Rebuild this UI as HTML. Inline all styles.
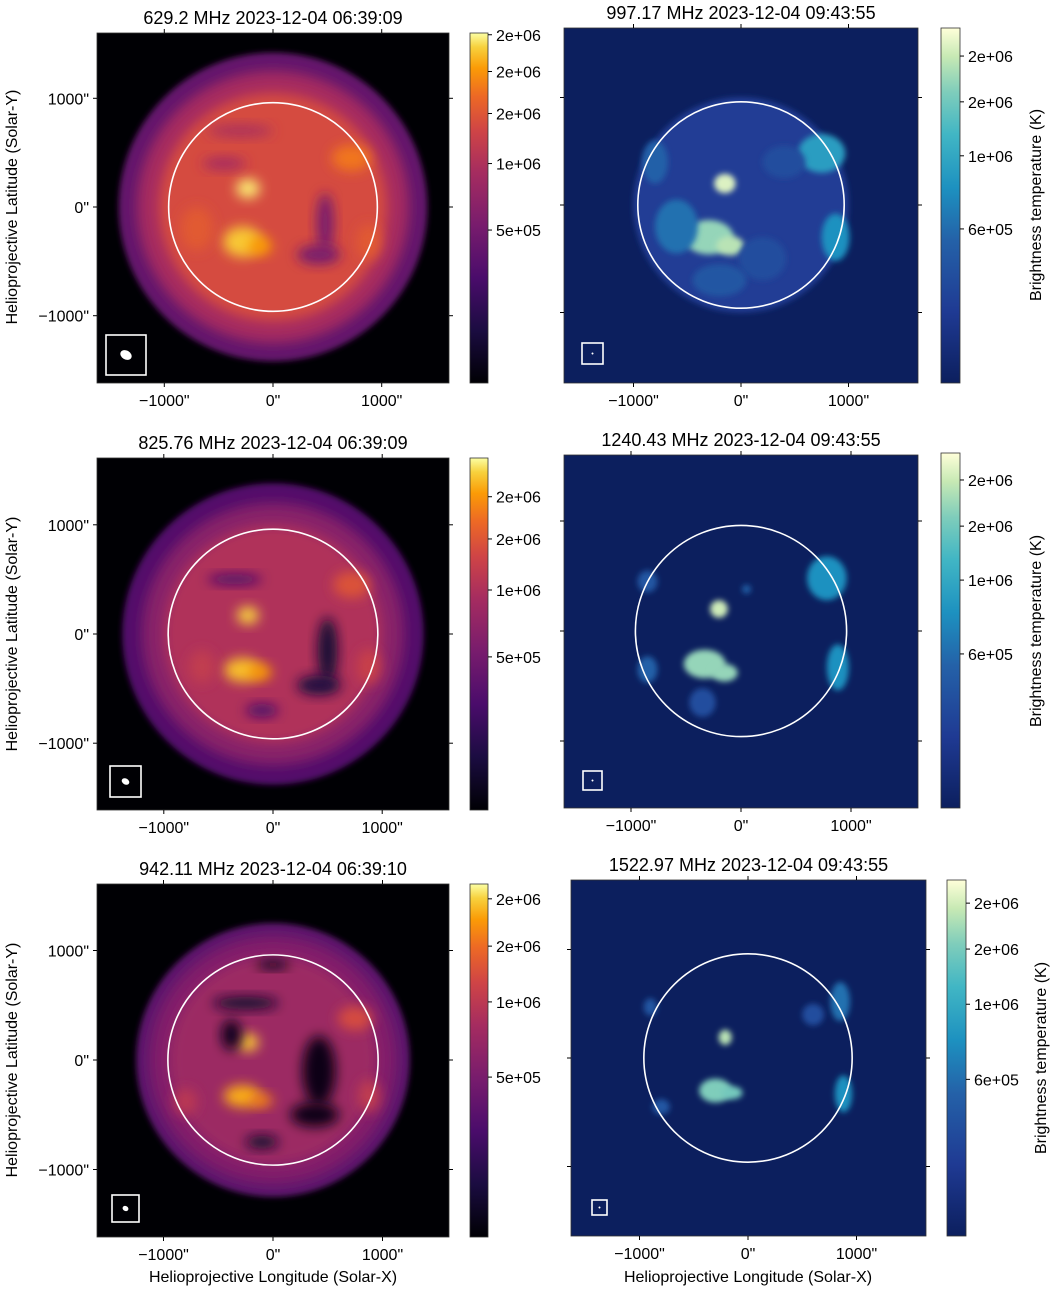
<!DOCTYPE html>
<html><head><meta charset="utf-8"><style>
html,body{margin:0;padding:0;background:#fff;}
svg{display:block;font-family:"Liberation Sans","DejaVu Sans",sans-serif;}
</style></head><body>
<svg id="fig" width="1052" height="1291" viewBox="0 0 1052 1291" xmlns="http://www.w3.org/2000/svg">
<defs>
<linearGradient id="inferno" x1="0" y1="1" x2="0" y2="0">
<stop offset="0" stop-color="#000004"/><stop offset="0.15" stop-color="#1b0c41"/><stop offset="0.3" stop-color="#4a0c6b"/><stop offset="0.45" stop-color="#781c6d"/><stop offset="0.6" stop-color="#a52c60"/><stop offset="0.72" stop-color="#cf4446"/><stop offset="0.82" stop-color="#ed6925"/><stop offset="0.9" stop-color="#fb9b06"/><stop offset="0.96" stop-color="#f7d13d"/><stop offset="1" stop-color="#fcffa4"/>
</linearGradient>
<linearGradient id="ylgnbu" x1="0" y1="1" x2="0" y2="0">
<stop offset="0" stop-color="#0c1f5e"/><stop offset="0.2" stop-color="#1f3a93"/><stop offset="0.4" stop-color="#2461a8"/><stop offset="0.55" stop-color="#1d91c0"/><stop offset="0.7" stop-color="#41b6c4"/><stop offset="0.82" stop-color="#7fcdbb"/><stop offset="0.92" stop-color="#c7e9b4"/><stop offset="1" stop-color="#ffffd9"/>
</linearGradient>
<filter id="b6" x="-50%" y="-50%" width="200%" height="200%"><feGaussianBlur stdDeviation="6"/></filter>
<filter id="b3" x="-50%" y="-50%" width="200%" height="200%"><feGaussianBlur stdDeviation="3"/></filter>
<filter id="b10" x="-50%" y="-50%" width="200%" height="200%"><feGaussianBlur stdDeviation="10"/></filter>
</defs>
</svg>
<script>
// ---- data ----
const tickArcsec = [-1000, 0, 1000];
const tickLabels = ['\u22121000"', '0"', '1000"'];
const titles = ["629.2 MHz 2023-12-04 06:39:09","997.17 MHz 2023-12-04 09:43:55","825.76 MHz 2023-12-04 06:39:09","1240.43 MHz 2023-12-04 09:43:55","942.11 MHz 2023-12-04 06:39:10","1522.97 MHz 2023-12-04 09:43:55"];
const cbLeftLabels1 = ["2e+06","2e+06","2e+06","1e+06","5e+05"];
const cbLeftFrac1 = [0.995,0.89,0.77,0.627,0.437];
const cbLeftLabels2 = ["2e+06","2e+06","1e+06","5e+05"];
const cbLeftFrac2 = [0.89,0.77,0.625,0.435];
const cbLeftFrac3 = [0.958,0.824,0.666,0.453];
const cbRightLabels = ["2e+06","2e+06","1e+06","6e+05"];
const cbRightFrac1 = [0.921,0.792,0.64,0.434];
const cbRightFrac2 = [0.924,0.794,0.642,0.434];
const cbRightFrac3 = [0.935,0.806,0.651,0.44];
// base layers: [radius arcsec, level 0..1]
const baseL1 = [[1420,0.38],[1250,0.6],[1050,0.74]];
const baseL2 = [[1380,0.33],[1200,0.5],[1000,0.63]];
const baseL3 = [[1250,0.36],[1130,0.48],[950,0.57]];
// blobs: [x arcsec, y arcsec, rx, ry, level]
const blobsL1 = [[-230,170,110,90,0.98],[-280,-320,180,140,0.95],[-120,-360,110,80,0.9],[720,450,180,120,0.84],[880,-320,110,160,0.78],[-700,-200,150,200,0.78],[480,-150,80,280,0.45],[420,-440,200,90,0.45],[-450,400,200,60,0.6],[-300,700,300,60,0.62]];
const blobsL2 = [[-230,170,100,80,0.96],[-280,-330,170,110,0.94],[-120,-350,110,70,0.9],[720,450,170,120,0.76],[880,-300,110,160,0.7],[500,-150,90,300,0.12],[420,-470,200,90,0.15],[-350,500,250,50,0.3],[-100,-700,150,60,0.3],[-650,-300,120,150,0.68]];
const blobsL3 = [[-230,160,100,80,0.95],[-280,-330,170,100,0.92],[-110,-370,110,60,0.86],[750,380,160,110,0.74],[880,-330,100,150,0.68],[420,-100,150,320,0.05],[380,-500,220,110,0.05],[-380,230,90,140,0.06],[-250,520,300,60,0.1],[-100,-750,150,60,0.1],[-800,-380,110,120,0.66],[0,870,150,40,0.05]];
const blobsR1 = [[-150,200,100,90,0.95],[-300,-300,230,160,0.85],[-100,-380,130,90,0.9],[750,480,220,180,0.6],[-600,-200,200,250,0.45],[880,-300,130,220,0.55],[-800,400,120,200,0.4],[200,-500,220,200,0.3],[-200,-700,250,150,0.35],[400,400,200,150,0.3]];
const blobsR2 = [[-200,200,80,80,0.93],[-330,-300,190,130,0.85],[-150,-380,120,80,0.85],[780,480,180,200,0.55],[880,-330,100,210,0.55],[-850,-350,90,120,0.4],[-850,450,90,100,0.35],[-350,-650,120,130,0.3],[50,380,40,40,0.4]];
const blobsR3 = [[-210,190,60,70,0.9],[-300,-300,150,110,0.82],[-150,-320,100,60,0.8],[880,-330,80,170,0.55],[850,520,90,180,0.45],[600,400,100,100,0.3],[-900,470,60,80,0.35],[-800,-450,80,70,0.35]];

const fig = document.getElementById('fig');
const NS = 'http://www.w3.org/2000/svg';
function mk(tag, attrs, parent){const e=document.createElementNS(NS,tag);for(const k in attrs)e.setAttribute(k,attrs[k]);(parent||fig).appendChild(e);return e;}

const infernoStops=[[0,'#000004'],[0.15,'#1b0c41'],[0.3,'#4a0c6b'],[0.45,'#781c6d'],[0.6,'#a52c60'],[0.72,'#cf4446'],[0.82,'#ed6925'],[0.9,'#fb9b06'],[0.96,'#f7d13d'],[1,'#fcffa4']];
const ylStops=[[0,'#0c1f5e'],[0.2,'#1f3a93'],[0.4,'#2461a8'],[0.55,'#1d91c0'],[0.7,'#41b6c4'],[0.82,'#7fcdbb'],[0.92,'#c7e9b4'],[1,'#ffffd9']];
function hex(h){return [1,3,5].map(i=>parseInt(h.substr(i,2),16));}
function cmap(stops,v){v=Math.max(0,Math.min(1,v));for(let i=1;i<stops.length;i++){if(v<=stops[i][0]){const a=stops[i-1],b=stops[i];const t=(v-a[0])/(b[0]-a[0]);const ca=hex(a[1]),cb=hex(b[1]);return 'rgb('+ca.map((c,j)=>Math.round(c+(cb[j]-c)*t)).join(',')+')';}}return stops[stops.length-1][1];}

function panel(p){
  const g=mk('g',{});
  
  
  const sx=v=>p.cx+v*p.s, sy=v=>p.cy-v*p.s;
  const cid='clip-'+p.name;
  const cp=mk('clipPath',{id:cid},g);mk('rect',{x:p.x0,y:p.y0,width:p.x1-p.x0,height:p.y1-p.y0},cp);
  const bg=mk('rect',{x:p.x0,y:p.y0,width:p.x1-p.x0,height:p.y1-p.y0,fill:p.bg},g);
  
  
  const img=mk('g',{'clip-path':'url(#'+cid+')'},g);
  
  
  (p.base||[]).forEach((b,i)=>{const c=mk('circle',{cx:sx(0),cy:sy(0),r:b[0]*p.s,fill:cmap(p.stops,b[1]),filter:i==0?'url(#b3)':'url(#b6)'},img);
    
    });
  p.blobs.forEach(b=>{const e=mk('ellipse',{cx:sx(b[0]),cy:sy(b[1]),rx:b[2]*p.s,ry:b[3]*p.s,fill:cmap(p.stops,b[4]),filter:p.bg=='#000004'?'url(#b6)':'url(#b3)'},img);
    
    });
  const limb=mk('circle',{cx:sx(0),cy:sy(0),r:960*p.s,fill:'none',stroke:'#fff','stroke-width':1.6},g);
  
  
  const bx=p.beam[0],by=p.beam[1],bs=p.beam[2];
  const box=mk('rect',{x:bx,y:by,width:bs,height:bs,fill:'none',stroke:'#fff','stroke-width':1.6},g);
  
  
  const be=mk('ellipse',{cx:bx+bs/2,cy:by+bs/2,rx:p.beam[3],ry:p.beam[4],fill:'#fff',transform:'rotate(30 '+(bx+bs/2)+' '+(by+bs/2)+')'},g);
  
  
  const fr=mk('rect',{x:p.x0,y:p.y0,width:p.x1-p.x0,height:p.y1-p.y0,fill:'none',stroke:'#333','stroke-width':0.8},g);
  
  
  tickArcsec.forEach((t,i)=>{
    const x=sx(t),y=sy(t);
    mk('line',{x1:x,y1:p.y1,x2:x,y2:p.y1+4,stroke:'#000'},g);
    mk('line',{x1:x,y1:p.y0,x2:x,y2:p.y0-4,stroke:'#000'},g);
    mk('line',{x1:p.x0,y1:y,x2:p.x0-4,y2:y,stroke:'#000'},g);
    mk('line',{x1:p.x1,y1:y,x2:p.x1+4,y2:y,stroke:'#000'},g);
    const tl=mk('text',{x:x,y:p.y1+23,'text-anchor':'middle','font-size':16},g);tl.textContent=tickLabels[i];
    
    
    if(p.ylabels){const yl=mk('text',{x:p.x0-8,y:y+6,'text-anchor':'end','font-size':16},g);yl.textContent=tickLabels[i];
      
      }
  });
  const tt=mk('text',{x:(p.x0+p.x1)/2,y:p.y0-9,'text-anchor':'middle','font-size':18},g);tt.textContent=p.title;
  
  
  const cb=mk('rect',{x:p.cb[0],y:p.cb[1],width:p.cb[2]-p.cb[0],height:p.cb[3]-p.cb[1],fill:p.grad,stroke:'#333','stroke-width':0.8},g);
  
  
  p.cbLabels.forEach((l,i)=>{const y=p.cb[3]-p.cbFrac[i]*(p.cb[3]-p.cb[1]);
    mk('line',{x1:p.cb[2],y1:y,x2:p.cb[2]+4,y2:y,stroke:'#000'},g);
    const t=mk('text',{x:p.cb[2]+8,y:y+6,'font-size':16},g);t.textContent=l;
    
    });
  if(p.cbTitle){const cx=p.cbTitle[0],cy=p.cbTitle[1];const t=mk('text',{x:cx,y:cy,'text-anchor':'middle','font-size':16,transform:'rotate(-90 '+cx+' '+cy+')'},g);t.textContent='Brightness temperature (K)';
    
    }
  if(p.ytitle){const cx=17,cy=p.cy;const t=mk('text',{x:cx,y:cy,'text-anchor':'middle','font-size':16,transform:'rotate(-90 '+cx+' '+cy+')'},g);t.textContent='Helioprojective Latitude (Solar-Y)';
    
    }
  if(p.xtitle){const t=mk('text',{x:p.cx,y:1282,'text-anchor':'middle','font-size':16},g);t.textContent='Helioprojective Longitude (Solar-X)';
    
    }
}
const L={bg:'#000004',stops:infernoStops,grad:'url(#inferno)',ylabels:true,ytitle:true};
const R={bg:'#0c1f5e',stops:ylStops,grad:'url(#ylgnbu)',cbLabels:cbRightLabels};
panel(Object.assign({},L,{name:'panel-629mhz',x0:97,y0:33,x1:449,y1:383,cx:273,cy:207,s:0.1087,base:baseL1,blobs:blobsL1,title:titles[0],beam:[106,335,40,6,4.5],cb:[470,33,488,383],cbLabels:cbLeftLabels1,cbFrac:cbLeftFrac1}));
panel(Object.assign({},R,{name:'panel-997mhz',x0:564,y0:28,x1:918,y1:383,cx:741,cy:205,s:0.1075,base:[[1000,0.22]],blobs:blobsR1,title:titles[1],beam:[582,343,21,1,1],cb:[941,28,960,383],cbFrac:cbRightFrac1,cbTitle:[1041,205]}));
panel(Object.assign({},L,{name:'panel-826mhz',x0:97,y0:458,x1:449,y1:810,cx:273,cy:634,s:0.1092,base:baseL2,blobs:blobsL2,title:titles[2],beam:[110,766,31,4,3],cb:[470,458,488,810],cbLabels:cbLeftLabels2,cbFrac:cbLeftFrac2}));
panel(Object.assign({},R,{name:'panel-1240mhz',x0:564,y0:455,x1:918,y1:808,cx:741,cy:631,s:0.11,base:[],blobs:blobsR2,title:titles[3],beam:[583,771,19,1,1],cb:[941,453,960,808],cbFrac:cbRightFrac2,cbTitle:[1041,631]}));
panel(Object.assign({},L,{name:'panel-942mhz',x0:97,y0:884,x1:449,y1:1237,cx:273,cy:1060,s:0.1095,base:baseL3,blobs:blobsL3,title:titles[4],beam:[112,1195,27,3,2.5],cb:[470,884,488,1237],cbLabels:cbLeftLabels2,cbFrac:cbLeftFrac3,xtitle:true}));
panel(Object.assign({},R,{name:'panel-1523mhz',x0:571,y0:880,x1:926,y1:1236,cx:748,cy:1058,s:0.1085,base:[],blobs:blobsR3,title:titles[5],beam:[592,1200,15,1,1],cb:[947,880,966,1236],cbFrac:cbRightFrac3,cbTitle:[1046,1058],xtitle:true}));
</script>
</body></html>
